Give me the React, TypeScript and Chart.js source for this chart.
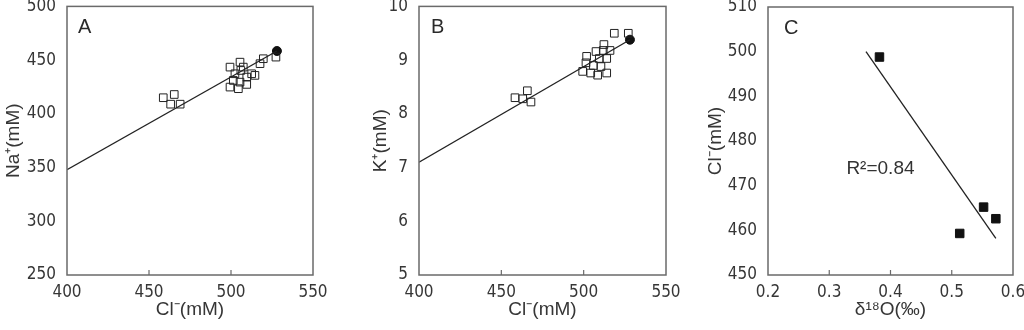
import React, { useEffect, useRef } from "react";
import { Chart, registerables } from "chart.js";

Chart.register(...registerables);

const TICK_FONT = "'Liberation Sans Narrow', 'Arial Narrow', 'DejaVu Sans Condensed', sans-serif";
const TEXT_FONT = "'Liberation Sans', Arial, sans-serif";
const TEXT_COLOR = "#363636";

// ---------- Panel A: Na+ vs Cl- ----------
const clA = [458.7, 465.4, 463.2, 469.0, 499.4, 505.5, 507.5, 502.4, 512.6, 514.6, 509.6, 501.4, 505.5, 499.4, 504.5, 509.6, 506.0, 517.7, 519.7, 527.4];
const naA = [415, 418, 409, 409, 443.5, 448.1, 443.5, 437.3, 437.3, 435.8, 434.2, 431.1, 429.5, 424.9, 423.4, 427.4, 440.4, 446.7, 451.3, 452.8];
const clA_end = [528];
const naA_end = [458.5];
const lineA_x = [400, 528];
const lineA_y = [348, 458.5];
const xTicksA = [400, 450, 500, 550];
const yTicksA = [250, 300, 350, 400, 450, 500];

// ---------- Panel B: K+ vs Cl- ----------
const clB = [458.3, 465.8, 463.0, 468.0, 499.4, 501.8, 501.4, 504.3, 507.5, 508.5, 505.9, 509.5, 510.5, 511.9, 512.3, 514.0, 514.0, 516.0, 518.6, 527.1];
const kB = [8.30, 8.43, 8.28, 8.22, 8.79, 9.07, 8.95, 8.76, 9.16, 8.72, 8.90, 9.03, 8.88, 9.18, 9.29, 8.76, 9.03, 9.18, 9.50, 9.50];
const clB_end = [528.1];
const kB_end = [9.38];
const lineB_x = [400, 528.1];
const lineB_y = [7.1, 9.38];
const xTicksB = [400, 450, 500, 550];
const yTicksB = [5, 6, 7, 8, 9, 10];

// ---------- Panel C: Cl- vs δ18O ----------
const d18C = [0.382, 0.513, 0.552, 0.572];
const clC = [498.8, 459.3, 465.2, 462.6];
const lineC_x = [0.36, 0.572];
const lineC_y = [500, 458.2];
const xTicksC = [0.2, 0.3, 0.4, 0.5, 0.6];
const xLabelsC = ["0.2", "0.3", "0.4", "0.5", "0.6"];
const yTicksC = [450, 460, 470, 480, 490, 500, 510];
const noteC = "R²=0.84";
const noteC_pos = [0.328, 472.7];

const pts = (xs: number[], ys: number[]) => xs.map((x, i) => ({ x, y: ys[i] }));

const framePlugin = {
  id: "frame",
  afterDatasetsDraw(chart: any, _args: any, opts: any) {
    const { ctx, chartArea: a } = chart;
    ctx.save();
    ctx.strokeStyle = "#6a6a6a";
    ctx.lineWidth = 1.5;
    ctx.strokeRect(a.left, a.top, a.right - a.left, a.bottom - a.top);
    const xs = chart.scales.x;
    ctx.lineWidth = 1.2;
    ctx.beginPath();
    xs.ticks.forEach((t: any) => {
      const px = xs.getPixelForValue(t.value);
      if (px > a.left + 2 && px < a.right - 2) {
        ctx.moveTo(px, a.bottom);
        ctx.lineTo(px, a.bottom - 5);
      }
    });
    ctx.stroke();
    ctx.fillStyle = "#2a2a2a";
    ctx.font = `20px ${TEXT_FONT}`;
    ctx.textBaseline = "alphabetic";
    ctx.fillText(opts.letter, a.left + opts.letterDx, a.top + 27);
    if (opts.note) {
      const ys = chart.scales.y;
      ctx.font = `19px ${TEXT_FONT}`;
      ctx.fillStyle = "#333";
      ctx.fillText(opts.note, xs.getPixelForValue(opts.noteAt[0]), ys.getPixelForValue(opts.noteAt[1]));
    }
    ctx.restore();
  },
};

type Panel = {
  left: number;
  width: number;
  area: { left: number; right: number; top: number; bottom: number };
  letter: string;
  letterDx: number;
  xTicks: number[];
  xLabels?: string[];
  yTicks: number[];
  xTitle: string;
  yTitle: string;
  yTitleCenter: number;
  datasets: any[];
  note?: string;
  noteAt?: number[];
};

const openSq = (data: any[]) => ({
  data,
  pointStyle: "rect",
  pointRadius: 5.4,
  borderColor: "#222",
  borderWidth: 1,
  backgroundColor: "rgba(0,0,0,0)",
});
const filled = (data: any[], style: string, r: number) => ({
  data,
  pointStyle: style,
  pointRadius: r,
  borderColor: "#111",
  borderWidth: 1,
  backgroundColor: "#111",
});
const regLine = (data: any[]) => ({
  data,
  showLine: true,
  pointRadius: 0,
  borderColor: "#222",
  borderWidth: 1.3,
  fill: false,
});

const panels: Panel[] = [
  {
    left: 0,
    width: 340,
    area: { left: 67, right: 313, top: 6, bottom: 275 },
    letter: "A",
    letterDx: 11,
    xTicks: xTicksA,
    yTicks: yTicksA,
    xTitle: "Cl⁻(mM)",
    yTitle: "Na⁺(mM)",
    yTitleCenter: 14,
    datasets: [regLine(pts(lineA_x, lineA_y)), openSq(pts(clA, naA)), filled(pts(clA_end, naA_end), "circle", 4.5)],
  },
  {
    left: 340,
    width: 340,
    area: { left: 79, right: 326, top: 6, bottom: 275 },
    letter: "B",
    letterDx: 12,
    xTicks: xTicksB,
    yTicks: yTicksB,
    xTitle: "Cl⁻(mM)",
    yTitle: "K⁺(mM)",
    yTitleCenter: 41,
    datasets: [regLine(pts(lineB_x, lineB_y)), openSq(pts(clB, kB)), filled(pts(clB_end, kB_end), "circle", 4.5)],
  },
  {
    left: 680,
    width: 344,
    area: { left: 88, right: 333, top: 6, bottom: 275 },
    letter: "C",
    letterDx: 16,
    xTicks: xTicksC,
    xLabels: xLabelsC,
    yTicks: yTicksC,
    xTitle: "δ¹⁸O(‰)",
    yTitle: "Cl⁻(mM)",
    yTitleCenter: 36,
    datasets: [regLine(pts(lineC_x, lineC_y)), filled(pts(d18C, clC), "rect", 6)],
    note: noteC,
    noteAt: noteC_pos,
  },
];

function PanelChart({ p }: { p: Panel }) {
  const ref = useRef<HTMLCanvasElement>(null);
  useEffect(() => {
    const H = 330;
    const chart = new Chart(ref.current as HTMLCanvasElement, {
      type: "scatter",
      data: { datasets: p.datasets },
      plugins: [framePlugin as any],
      options: {
        animation: false,
        responsive: false,
        devicePixelRatio: 1,
        events: [],
        layout: { padding: { left: 0, right: p.width - p.area.right, top: p.area.top, bottom: 0 } },
        plugins: {
          legend: { display: false },
          tooltip: { enabled: false },
          frame: { letter: p.letter, letterDx: p.letterDx, note: p.note, noteAt: p.noteAt },
        } as any,
        scales: {
          x: {
            type: "linear",
            min: p.xTicks[0],
            max: p.xTicks[p.xTicks.length - 1],
            afterBuildTicks: (s: any) => {
              s.ticks = p.xTicks.map((v) => ({ value: v }));
            },
            afterFit: (s: any) => {
              s.height = H - p.area.bottom;
              s.paddingLeft = 0;
              s.paddingRight = 0;
            },
            grid: { display: false, drawTicks: false },
            border: { display: false },
            ticks: {
              font: { family: TICK_FONT, size: 17 },
              color: TEXT_COLOR,
              padding: 7,
              maxRotation: 0,
              callback: (v: any, i: number) => (p.xLabels ? p.xLabels[i] : String(p.xTicks[i])),
            },
            title: {
              display: true,
              text: p.xTitle,
              font: { family: TEXT_FONT, size: 19 },
              color: TEXT_COLOR,
              padding: { top: 0, bottom: 9 },
            },
          },
          y: {
            type: "linear",
            min: p.yTicks[0],
            max: p.yTicks[p.yTicks.length - 1],
            afterBuildTicks: (s: any) => {
              s.ticks = p.yTicks.map((v) => ({ value: v }));
            },
            afterFit: (s: any) => {
              s.width = p.area.left;
              s.paddingTop = 0;
              s.paddingBottom = 0;
            },
            grid: { display: false, drawTicks: false },
            border: { display: false },
            ticks: {
              font: { family: TICK_FONT, size: 17 },
              color: TEXT_COLOR,
              padding: 11,
              callback: (v: any, i: number) => String(p.yTicks[i]),
            },
            title: {
              display: true,
              text: p.yTitle,
              font: { family: TEXT_FONT, size: 19 },
              color: TEXT_COLOR,
              padding: { top: p.yTitleCenter - 11.4, bottom: 0 },
            },
          },
        },
      } as any,
    });
    return () => chart.destroy();
  }, [p]);
  return (
    <canvas
      ref={ref}
      width={p.width}
      height={330}
      style={{ position: "absolute", left: p.left, top: 0, width: p.width, height: 330 }}
    />
  );
}

export default function App() {
  return (
    <div style={{ position: "fixed", left: 0, top: 0, width: 1024, height: 330, background: "#fff" }}>
      {panels.map((p, i) => (
        <PanelChart key={i} p={p} />
      ))}
    </div>
  );
}
